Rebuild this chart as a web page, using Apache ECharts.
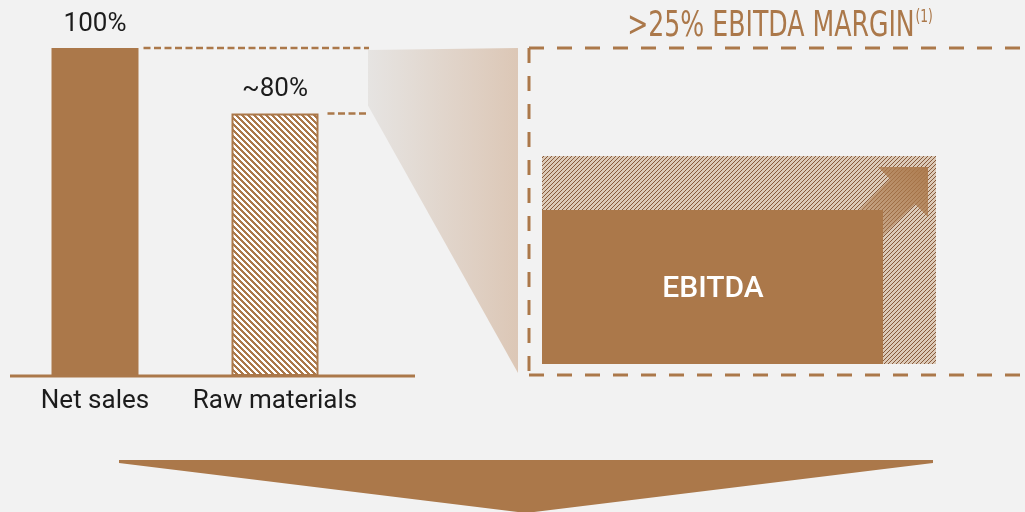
<!DOCTYPE html>
<html>
<head>
<meta charset="utf-8">
<script src="https://cdn.jsdelivr.net/npm/echarts@6/dist/echarts.min.js"></script>
<style>
  html, body { margin: 0; padding: 0; background: #f2f2f2; }
  #chart { width: 1025px; height: 512px; }
</style>
</head>
<body>
<div id="chart"></div>
<script>
// Cost structure: share of net sales
const categories = ['Net sales', 'Raw materials'];
const shareValues = [100, 80];
const shareLabels = ['100%', '~80%'];

// Margin call-out texts
const marginTitle = '>25% EBITDA MARGIN';
const marginNote = '(1)';
const boxLabel = 'EBITDA';

const BROWN = '#ab784a';
const TEXT = '#1c1c1c';
const FONT = 'Roboto, "Noto Sans", sans-serif';
const NARROW = '"Liberation Sans Narrow", "DejaVu Sans Condensed", sans-serif';

// Pixel-aligned diagonal stripe tile: `band` coloured pixels per row, shifted one per row
function stripeTile(bg, fg, size, band, dir) {
  const c = document.createElement('canvas');
  c.width = size; c.height = size;
  const g = c.getContext('2d');
  g.fillStyle = bg; g.fillRect(0, 0, size, size);
  g.fillStyle = fg;
  for (let y = 0; y < size; y++) {
    for (let k = 0; k < band; k++) {
      const x = dir === 'down' ? (y + k) % size : ((size - 1 - y + k) % size + size) % size;
      g.fillRect(x, y, 1, 1);
    }
  }
  return { image: c, repeat: 'repeat' };
}

const rawFill = stripeTile('#ffffff', BROWN, 6, 3, 'down');
const marginFill = stripeTile('#dccab8', '#875a3b', 4, 1, 'up');

const chart = echarts.init(document.getElementById('chart'), null, { renderer: 'canvas' });

const BAR_W = 87;

chart.setOption({
  backgroundColor: '#f2f2f2',
  animation: false,
  grid: { left: 5, width: 360, top: 48, bottom: 136 },
  xAxis: {
    type: 'category',
    data: categories,
    axisLine: { show: false },
    axisTick: { show: false },
    axisLabel: { interval: 0, fontSize: 26, color: TEXT, fontFamily: FONT, margin: 12 }
  },
  yAxis: { type: 'value', min: 0, max: 100, show: false },
  series: [{
    type: 'bar',
    barWidth: BAR_W,
    data: shareValues.map((v, i) => ({
      value: v,
      itemStyle: i === 0
        ? { color: BROWN }
        : { color: rawFill, borderColor: BROWN, borderWidth: 2 }
    })),
    label: {
      show: true,
      position: 'top',
      distance: 11,
      formatter: p => shareLabels[p.dataIndex],
      fontSize: 26,
      color: TEXT,
      fontFamily: FONT
    }
  }]
});

// Decorations tied to the bar scale
const yTop = chart.convertToPixel({ yAxisIndex: 0 }, shareValues[0]);
const yRaw = chart.convertToPixel({ yAxisIndex: 0 }, shareValues[1]);
const yBase = chart.convertToPixel({ yAxisIndex: 0 }, 0);
const xNet = chart.convertToPixel({ xAxisIndex: 0 }, 0);
const xRaw = chart.convertToPixel({ xAxisIndex: 0 }, 1);

const dashSmall = { stroke: BROWN, lineWidth: 2.5, lineDash: [7, 3.5] };
const dashBig = { stroke: BROWN, lineWidth: 3, lineDash: [15, 13] };

// Call-out box geometry
const box = { x: 529, top: 48, bottom: 375 };
const potential = { x: 542, y: 156, w: 394, h: 208 };
const ebitdaRect = { x: 542, y: 210, w: 341, h: 154 };

chart.setOption({
  graphic: [
    // baseline
    { type: 'line', shape: { x1: 10, y1: yBase, x2: 415, y2: yBase },
      style: { stroke: BROWN, lineWidth: 3 } },
    // guide lines from bar tops
    { type: 'line', shape: { x1: xNet + BAR_W / 2 + 5, y1: yTop, x2: 369, y2: yTop }, style: dashSmall },
    { type: 'line', shape: { x1: xRaw + BAR_W / 2 + 9, y1: yRaw, x2: 369, y2: yRaw }, style: dashSmall },
    // zoom wedge
    { type: 'polygon', z: -1,
      shape: { points: [[368, yTop + 2], [518, yTop], [518, box.bottom - 2], [368, yRaw - 8]] },
      style: { fill: { type: 'linear', x: 0, y: 0, x2: 1, y2: 0,
        colorStops: [{ offset: 0, color: '#e6e4e2' }, { offset: 1, color: '#dcc7b6' }] } } },
    // dashed call-out frame
    { type: 'line', shape: { x1: box.x, y1: box.top, x2: 1025, y2: box.top }, style: dashBig },
    { type: 'line', shape: { x1: box.x, y1: box.top, x2: box.x, y2: box.bottom }, style: dashBig },
    { type: 'line', shape: { x1: box.x, y1: box.bottom, x2: 1025, y2: box.bottom }, style: dashBig },
    // potential margin area
    { type: 'rect', shape: { x: potential.x, y: potential.y, width: potential.w, height: potential.h },
      style: { fill: marginFill } },
    // EBITDA block
    { type: 'rect', shape: { x: ebitdaRect.x, y: ebitdaRect.y, width: ebitdaRect.w, height: ebitdaRect.h },
      style: { fill: BROWN } },
    { type: 'text', x: 713, y: 289,
      style: { text: boxLabel, fill: '#ffffff', fontSize: 30, fontWeight: 500, fontFamily: FONT,
        align: 'center', verticalAlign: 'middle' } },
    // growth arrow
    { type: 'polygon',
      shape: { points: [[928, 167], [878, 167], [890, 179], [835, 234], [860, 259], [915, 204], [928, 217]] },
      style: { fill: { type: 'linear', x: 0, y: 1, x2: 1, y2: 0,
        colorStops: [{ offset: 0, color: 'rgba(171,120,74,0)' },
                     { offset: 0.55, color: 'rgba(171,120,74,0.6)' },
                     { offset: 1, color: 'rgba(171,120,74,0.95)' }] } } },
    // margin headline (horizontally condensed)
    { type: 'text', x: 780, y: 27, scaleX: 0.8,
      style: { text: '{a|' + marginTitle + '}{b|' + marginNote + '}', align: 'center', verticalAlign: 'middle',
        rich: {
          a: { fontSize: 35, fontFamily: NARROW, fill: BROWN, color: BROWN },
          b: { fontSize: 17, fontFamily: NARROW, fill: BROWN, color: BROWN, verticalAlign: 'top', padding: [0, 0, 14, 1] }
        } } },
    // downward arrow
    { type: 'polygon',
      shape: { points: [[119, 460], [933, 460], [933, 463], [526, 513], [119, 463]] },
      style: { fill: BROWN } }
  ]
});
</script>
</body>
</html>
